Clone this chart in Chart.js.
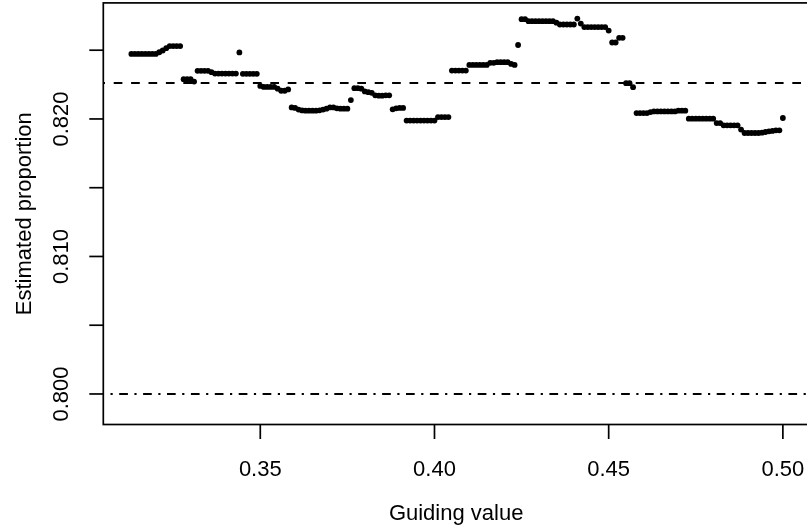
<!DOCTYPE html>
<html>
<head>
<meta charset="utf-8">
<script src="https://cdn.jsdelivr.net/npm/chart.js@4"></script>
<style>
  html, body { margin: 0; padding: 0; background: #fff; overflow: hidden; }
  #wrap { width: 812px; height: 529px; }
</style>
</head>
<body>
<div id="wrap"><canvas id="c" width="812" height="529"></canvas></div>
<script>
// Guiding values (x)
const guidingValue = [
  0.313,0.314,0.315,0.316,0.317,0.318,0.319,0.320,0.321,0.322,
  0.323,0.324,0.325,0.326,0.327,0.328,0.329,0.330,0.331,0.332,
  0.333,0.334,0.335,0.336,0.337,0.338,0.339,0.340,0.341,0.342,
  0.343,0.344,0.345,0.346,0.347,0.348,0.349,0.350,0.351,0.352,
  0.353,0.354,0.355,0.356,0.357,0.358,0.359,0.360,0.361,0.362,
  0.363,0.364,0.365,0.366,0.367,0.368,0.369,0.370,0.371,0.372,
  0.373,0.374,0.375,0.376,0.377,0.378,0.379,0.380,0.381,0.382,
  0.383,0.384,0.385,0.386,0.387,0.388,0.389,0.390,0.391,0.392,
  0.393,0.394,0.395,0.396,0.397,0.398,0.399,0.400,0.401,0.402,
  0.403,0.404,0.405,0.406,0.407,0.408,0.409,0.410,0.411,0.412,
  0.413,0.414,0.415,0.416,0.417,0.418,0.419,0.420,0.421,0.422,
  0.423,0.424,0.425,0.426,0.427,0.428,0.429,0.430,0.431,0.432,
  0.433,0.434,0.435,0.436,0.437,0.438,0.439,0.440,0.441,0.442,
  0.443,0.444,0.445,0.446,0.447,0.448,0.449,0.450,0.451,0.452,
  0.453,0.454,0.455,0.456,0.457,0.458,0.459,0.460,0.461,0.462,
  0.463,0.464,0.465,0.466,0.467,0.468,0.469,0.470,0.471,0.472,
  0.473,0.474,0.475,0.476,0.477,0.478,0.479,0.480,0.481,0.482,
  0.483,0.484,0.485,0.486,0.487,0.488,0.489,0.490,0.491,0.492,
  0.493,0.494,0.495,0.496,0.497,0.498,0.499,0.500
];
// Estimated proportion (y)
const estimatedProportion = [
  0.82473,0.82473,0.82473,0.82473,0.82473,0.82473,0.82473,0.82473,0.82485,0.82498,
  0.82515,0.82530,0.82530,0.82530,0.82530,0.82289,0.82289,0.82289,0.82272,0.82350,
  0.82350,0.82350,0.82350,0.82340,0.82330,0.82330,0.82330,0.82330,0.82330,0.82330,
  0.82330,0.82484,0.82328,0.82328,0.82328,0.82328,0.82328,0.82240,0.82233,0.82233,
  0.82233,0.82233,0.82220,0.82205,0.82205,0.82215,0.82084,0.82080,0.82068,0.82062,
  0.82060,0.82060,0.82060,0.82060,0.82063,0.82068,0.82075,0.82084,0.82084,0.82077,
  0.82075,0.82075,0.82075,0.82137,0.82224,0.82224,0.82220,0.82200,0.82195,0.82190,
  0.82172,0.82169,0.82169,0.82172,0.82172,0.82070,0.82077,0.82080,0.82080,0.81988,
  0.81988,0.81988,0.81988,0.81988,0.81988,0.81988,0.81988,0.81988,0.82014,0.82014,
  0.82014,0.82014,0.82352,0.82352,0.82352,0.82352,0.82352,0.82393,0.82393,0.82393,
  0.82393,0.82393,0.82393,0.82408,0.82408,0.82413,0.82413,0.82413,0.82413,0.82400,
  0.82393,0.82538,0.82726,0.82726,0.82711,0.82711,0.82711,0.82711,0.82711,0.82711,
  0.82711,0.82711,0.82700,0.82687,0.82687,0.82687,0.82687,0.82687,0.82730,0.82694,
  0.82668,0.82668,0.82668,0.82668,0.82668,0.82668,0.82668,0.82643,0.82556,0.82556,
  0.82590,0.82590,0.82260,0.82260,0.82231,0.82043,0.82043,0.82043,0.82043,0.82050,
  0.82055,0.82055,0.82055,0.82055,0.82055,0.82055,0.82055,0.82060,0.82060,0.82060,
  0.82002,0.82002,0.82002,0.82002,0.82002,0.82002,0.82002,0.82002,0.81970,0.81970,
  0.81954,0.81954,0.81954,0.81954,0.81954,0.81923,0.81898,0.81898,0.81898,0.81898,
  0.81898,0.81900,0.81905,0.81910,0.81913,0.81917,0.81917,0.82007
];
// Reference lines
const dashedLineValue = 0.82262;
const dotDashLineValue = 0.800;
// Ticks
const xTickValues = [0.35, 0.40, 0.45, 0.50];
const xTickLabels = ['0.35', '0.40', '0.45', '0.50'];
const yTickValues = [0.800, 0.805, 0.810, 0.815, 0.820, 0.825];
const yTickLabels = ['0.800', '', '0.810', '', '0.820', ''];
const xTitle = 'Guiding value';
const yTitle = 'Estimated proportion';

const FONT = '22px "Liberation Sans", Arial, sans-serif';

const rAxes = {
  id: 'rAxes',
  afterDraw(chart) {
    const ctx = chart.ctx;
    const a = chart.chartArea;
    const xs = chart.scales.x, ys = chart.scales.y;
    ctx.save();
    // reference lines (clipped to plot region)
    ctx.save();
    ctx.beginPath();
    ctx.rect(a.left, a.top, a.right - a.left, a.bottom - a.top);
    ctx.clip();
    ctx.strokeStyle = '#000';
    ctx.lineWidth = 2;
    let yy = ys.getPixelForValue(dashedLineValue);
    ctx.setLineDash([8.7, 8.7]);
    ctx.lineDashOffset = 7;
    ctx.beginPath(); ctx.moveTo(a.left, yy); ctx.lineTo(a.right, yy); ctx.stroke();
    yy = ys.getPixelForValue(dotDashLineValue);
    ctx.setLineDash([2.2, 6.5, 8.7, 6.5]);
    ctx.lineDashOffset = 16.7;
    ctx.beginPath(); ctx.moveTo(a.left, yy); ctx.lineTo(a.right, yy); ctx.stroke();
    ctx.restore();

    ctx.strokeStyle = '#000';
    ctx.lineWidth = 1.7;
    ctx.setLineDash([]);
    // box
    ctx.strokeRect(a.left, a.top, a.right - a.left, a.bottom - a.top);
    // x ticks
    ctx.fillStyle = '#000';
    ctx.font = FONT;
    ctx.textAlign = 'center';
    ctx.textBaseline = 'alphabetic';
    xTickValues.forEach((v, i) => {
      const px = xs.getPixelForValue(v);
      ctx.beginPath(); ctx.moveTo(px, a.bottom); ctx.lineTo(px, a.bottom + 14.5); ctx.stroke();
      ctx.fillText(xTickLabels[i], px, 476.3);
    });
    // y ticks
    yTickValues.forEach((v, i) => {
      const py = ys.getPixelForValue(v);
      ctx.beginPath(); ctx.moveTo(a.left, py); ctx.lineTo(a.left - 14, py); ctx.stroke();
      if (yTickLabels[i]) {
        ctx.save();
        ctx.translate(68.3, py);
        ctx.rotate(-Math.PI / 2);
        ctx.fillText(yTickLabels[i], 0, 0);
        ctx.restore();
      }
    });
    // titles
    ctx.fillText(xTitle, (a.left + a.right) / 2, 519.5);
    ctx.save();
    ctx.translate(31, (a.top + a.bottom) / 2);
    ctx.rotate(-Math.PI / 2);
    ctx.fillText(yTitle, 0, 0);
    ctx.restore();
    ctx.restore();
  }
};

new Chart(document.getElementById('c'), {
  type: 'scatter',
  data: {
    datasets: [{
      data: guidingValue.map((x, i) => ({ x: x, y: estimatedProportion[i] })),
      pointRadius: 2.9,
      pointHoverRadius: 2.9,
      backgroundColor: '#000',
      borderColor: '#000',
      borderWidth: 0
    }]
  },
  options: {
    responsive: false,
    animation: false,
    devicePixelRatio: 1,
    layout: { padding: { left: 103.3, top: 1, right: 3, bottom: 104.5 } },
    plugins: { legend: { display: false }, tooltip: { enabled: false } },
    scales: {
      x: { type: 'linear', display: false, min: 0.30494, max: 0.5075 },
      y: { type: 'linear', display: false, min: 0.79778, max: 0.82844 }
    }
  },
  plugins: [rAxes]
});
</script>
</body>
</html>
